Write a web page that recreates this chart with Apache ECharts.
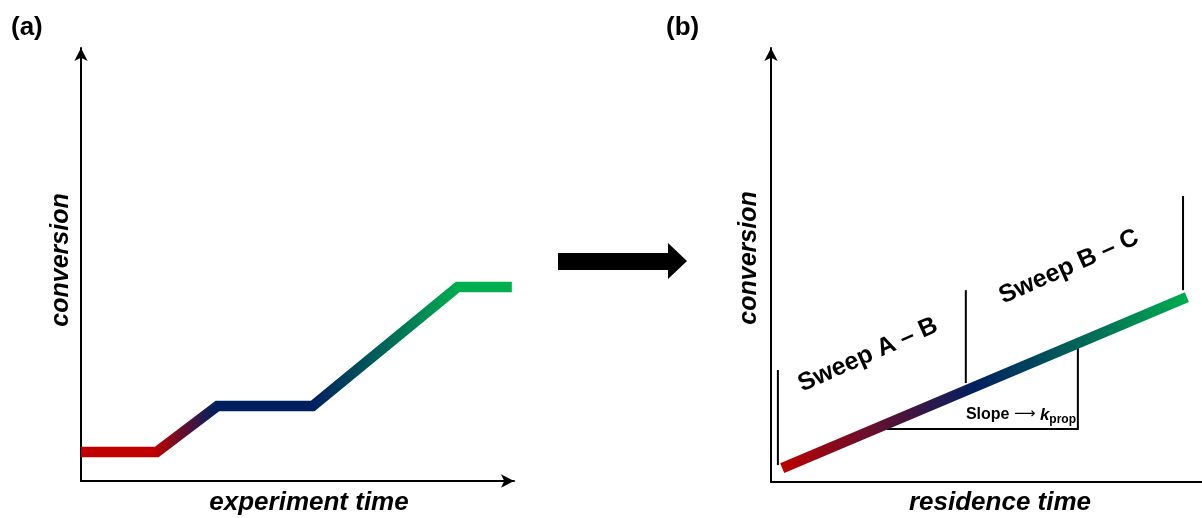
<!DOCTYPE html>
<html>
<head>
<meta charset="utf-8">
<script src="https://cdn.jsdelivr.net/npm/echarts@6/dist/echarts.min.js"></script>
<style>html,body{margin:0;padding:0;background:#fff}#c{width:1202px;height:518px}</style>
</head>
<body>
<div id="c"></div>
<script>
// Panel (a): conversion vs experiment time (schematic units)
const timeA = [0, 1.75, 3.15, 5.35, 8.7, 9.95];
const convA = [0.67, 0.67, 1.73, 1.73, 4.48, 4.48];
// Panel (b): conversion vs residence time
const residenceB = [0.26, 9.65];
const convB = [0.32, 4.26];
// Sweep boundary markers in panel (b)
const sweepX = [0.16, 4.52, 9.56];
const sweepYLow = [0.39, 2.28, 4.42];
const sweepYHigh = [2.58, 4.42, 6.59];
// Slope bracket in panel (b)
const slopeX = [2.69, 7.12, 7.12];
const slopeY = [1.22, 1.22, 3.11];
// Texts
const panelLabels = ['(a)', '(b)'];
const xTitles = ['experiment time', 'residence time'];
const yTitle = 'conversion';
const sweepLabels = ['Sweep A \u2013 B', 'Sweep B \u2013 C'];

const RED = '#C00000', NAVY = '#002060', GREEN = '#00B050';
const FONT = '"Liberation Sans", Arial, sans-serif';

function grad(stops) {
  return new echarts.graphic.LinearGradient(0, 0, 1, 0, stops);
}
function pairs(xs, ys) { return xs.map((x, i) => [x, ys[i]]); }

const axisLineStyle = { color: '#000', width: 2 };
function xAx(idx, arrow) {
  return { gridIndex: idx, type: 'value', min: 0, max: 10,
    axisLine: { show: true, onZero: false, lineStyle: axisLineStyle,
      symbol: arrow ? ['none', 'arrow'] : ['none', 'none'], symbolSize: [10, 13] },
    axisTick: { show: false }, axisLabel: { show: false }, splitLine: { show: false } };
}
function yAx(idx) {
  return { gridIndex: idx, type: 'value', min: 0, max: 10,
    axisLine: { show: true, onZero: false, lineStyle: axisLineStyle,
      symbol: ['none', 'arrow'], symbolSize: [10, 13] },
    axisTick: { show: false }, axisLabel: { show: false }, splitLine: { show: false } };
}

const series = [];
series.push({ type: 'line', xAxisIndex: 0, yAxisIndex: 0, data: pairs(timeA, convA),
  showSymbol: false, silent: true,
  lineStyle: { width: 10.5, join: 'miter', color: grad([
    { offset: 0, color: RED }, { offset: 0.176, color: RED },
    { offset: 0.316, color: NAVY }, { offset: 0.536, color: NAVY },
    { offset: 0.872, color: GREEN }, { offset: 1, color: GREEN }]) } });
series.push({ type: 'line', xAxisIndex: 1, yAxisIndex: 1, data: pairs(residenceB, convB),
  showSymbol: false, silent: true, z: 3,
  lineStyle: { width: 10.5, color: grad([
    { offset: 0, color: RED }, { offset: 0.48, color: NAVY }, { offset: 1, color: GREEN }]) } });
sweepX.forEach((x, i) => {
  series.push({ type: 'line', xAxisIndex: 1, yAxisIndex: 1,
    data: [[x, sweepYLow[i]], [x, sweepYHigh[i]]], showSymbol: false, silent: true, z: 2,
    lineStyle: { width: 2, color: '#000' } });
});
series.push({ type: 'line', xAxisIndex: 1, yAxisIndex: 1, data: pairs(slopeX, slopeY),
  showSymbol: false, silent: true, z: 2, lineStyle: { width: 2, color: '#000', join: 'miter' } });

const xTitleFont = 'italic bold 26px ' + FONT;
const yTitleFont = 'italic bold 25px ' + FONT;
const sweepFont = 'bold 25px ' + FONT;
const rot = 24 * Math.PI / 180;
const graphic = [
  { type: 'text', x: 11, y: 28, style: { text: panelLabels[0], font: 'bold 26px ' + FONT, fill: '#000', verticalAlign: 'middle' } },
  { type: 'text', x: 666, y: 28, style: { text: panelLabels[1], font: 'bold 26px ' + FONT, fill: '#000', verticalAlign: 'middle' } },
  { type: 'text', x: 309, y: 503, style: { text: xTitles[0], font: xTitleFont, fill: '#000', align: 'center', verticalAlign: 'middle' } },
  { type: 'text', x: 1000, y: 503, style: { text: xTitles[1], font: xTitleFont, fill: '#000', align: 'center', verticalAlign: 'middle' } },
  { type: 'text', x: 61, y: 260, rotation: Math.PI / 2, style: { text: yTitle, font: yTitleFont, fill: '#000', align: 'center', verticalAlign: 'middle' } },
  { type: 'text', x: 749, y: 258, rotation: Math.PI / 2, style: { text: yTitle, font: yTitleFont, fill: '#000', align: 'center', verticalAlign: 'middle' } },
  { type: 'text', x: 868, y: 355, rotation: rot, style: { text: sweepLabels[0], font: sweepFont, fill: '#000', align: 'center', verticalAlign: 'middle' } },
  { type: 'text', x: 1069, y: 267, rotation: rot, style: { text: sweepLabels[1], font: sweepFont, fill: '#000', align: 'center', verticalAlign: 'middle' } },
  { type: 'text', x: 1076, y: 415, style: {
      text: '{a|Slope }{r|\u27F6}{a| }{k|k}{s|prop}', align: 'right', verticalAlign: 'middle',
      rich: {
        a: { font: 'bold 16px ' + FONT, fill: '#000', lineHeight: 20 },
        r: { font: 'normal 15px "DejaVu Sans", ' + FONT, fill: '#000', lineHeight: 20, padding: [0, 0, 1, 0] },
        k: { font: 'italic bold 17px ' + FONT, fill: '#000', lineHeight: 20 },
        s: { font: 'bold 12px ' + FONT, fill: '#000', lineHeight: 20, padding: [9, 0, 0, 0] }
      } } },
  { type: 'polygon', shape: { points: [[558, 253], [668, 253], [668, 243], [687, 261], [668, 279], [668, 270], [558, 270]] },
    style: { fill: '#000' } }
];

const chart = echarts.init(document.getElementById('c'), null, { renderer: 'canvas' });
chart.setOption({
  animation: false,
  backgroundColor: '#fff',
  grid: [
    { left: 81, top: 48, width: 433, height: 433 },
    { left: 771, top: 48, width: 431, height: 434 }
  ],
  xAxis: [xAx(0, true), xAx(1, false)],
  yAxis: [yAx(0), yAx(1)],
  series: series,
  graphic: graphic
});
</script>
</body>
</html>
